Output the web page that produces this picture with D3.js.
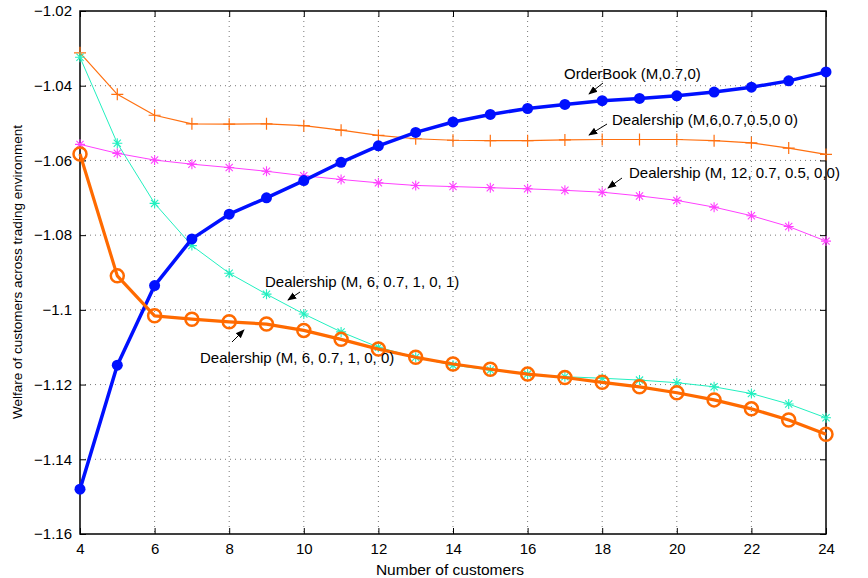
<!DOCTYPE html>
<html><head><meta charset="utf-8">
<script src="https://cdn.jsdelivr.net/npm/d3@7"></script>
<style>body{margin:0;background:#fff}svg{display:block}text{font-family:"Liberation Sans",Arial,sans-serif}</style>
</head><body><svg id="c" width="868" height="578"></svg>
<script>
const customers = [4,5,6,7,8,9,10,11,12,13,14,15,16,17,18,19,20,21,22,23,24];
const orderBook = [-1.148,-1.1148,-1.0935,-1.081,-1.0744,-1.07,-1.0654,-1.0605,-1.0561,-1.0525,-1.0497,-1.0477,-1.0461,-1.045,-1.044,-1.0434,-1.0427,-1.0417,-1.0404,-1.0387,-1.0363];
const dealerM6_05 = [-1.0312,-1.0423,-1.0479,-1.0502,-1.0503,-1.0502,-1.0507,-1.0519,-1.0533,-1.0542,-1.0546,-1.0547,-1.0547,-1.0545,-1.0544,-1.0544,-1.0544,-1.0547,-1.0553,-1.0567,-1.0584];
const dealerM12_05 = [-1.0557,-1.0581,-1.0599,-1.061,-1.0619,-1.0629,-1.0641,-1.0651,-1.066,-1.0667,-1.067,-1.0673,-1.0676,-1.068,-1.0685,-1.0695,-1.0707,-1.0725,-1.0748,-1.0777,-1.0816];
const dealerM6_1_1 = [-1.0324,-1.0554,-1.0715,-1.0828,-1.0902,-1.0958,-1.1011,-1.1059,-1.11,-1.1127,-1.1148,-1.1161,-1.1172,-1.1179,-1.1183,-1.1188,-1.1195,-1.1206,-1.1224,-1.1252,-1.1289];
const dealerM6_1_0 = [-1.0583,-1.0909,-1.1016,-1.1025,-1.1032,-1.1038,-1.1055,-1.1079,-1.1105,-1.1127,-1.1145,-1.1159,-1.1172,-1.1181,-1.1194,-1.1206,-1.1222,-1.1241,-1.1265,-1.1295,-1.1333];
const xTicks = [4,6,8,10,12,14,16,18,20,22,24];
const yTicks = [-1.16,-1.14,-1.12,-1.1,-1.08,-1.06,-1.04,-1.02];
const yTickLabels = ["\u22121.16","\u22121.14","\u22121.12","\u22121.1","\u22121.08","\u22121.06","\u22121.04","\u22121.02"];
const labels = ["OrderBook (M,0.7,0)","Dealership (M,6,0.7,0.5,0 0)","Dealership (M, 12, 0.7, 0.5, 0,0)","Dealership (M, 6, 0.7, 1, 0, 1)","Dealership (M, 6, 0.7, 1, 0, 0)"];
const xTitle = "Number of customers";
const yTitle = "Welfare of customers across trading environment";

const svg = d3.select("#c");
const L=80,R=826,T=11,B=534;
const x = d3.scaleLinear().domain([4,24]).range([L,R]);
const y = d3.scaleLinear().domain([-1.16,-1.02]).range([B,T]);

const g = svg.append("g");
g.selectAll(".gx").data(xTicks.slice(1,-1)).enter().append("line")
 .attr("x1",d=>x(d)).attr("x2",d=>x(d)).attr("y1",T).attr("y2",B)
 .attr("stroke","#555").attr("stroke-width",0.8).attr("stroke-dasharray","1,4");
g.selectAll(".gy").data(yTicks.slice(1,-1)).enter().append("line")
 .attr("y1",d=>y(d)).attr("y2",d=>y(d)).attr("x1",L).attr("x2",R)
 .attr("stroke","#555").attr("stroke-width",0.8).attr("stroke-dasharray","1,4");

const fs = "15px";
const ax = svg.append("g").attr("transform",`translate(0,${B})`)
 .call(d3.axisBottom(x).tickValues(xTicks).tickSizeInner(-6).tickSizeOuter(0).tickPadding(9).tickFormat(d3.format("d")));
const ay = svg.append("g").attr("transform",`translate(${L},0)`)
 .call(d3.axisLeft(y).tickValues(yTicks).tickSizeInner(-6).tickSizeOuter(0).tickPadding(8).tickFormat((d,i)=>yTickLabels[i]));
const axT = svg.append("g").attr("transform",`translate(0,${T})`)
 .call(d3.axisTop(x).tickValues(xTicks).tickSizeInner(-6).tickSizeOuter(0).tickFormat(""));
const ayR = svg.append("g").attr("transform",`translate(${R},0)`)
 .call(d3.axisRight(y).tickValues(yTicks).tickSizeInner(-6).tickSizeOuter(0).tickFormat(""));
[ax,ay,axT,ayR].forEach(a=>{a.select(".domain").remove();a.selectAll("line").attr("stroke","#000");
 a.selectAll("text").attr("font-size",fs).attr("fill","#000").attr("font-family","Liberation Sans, Arial, sans-serif");});
svg.append("rect").attr("x",L).attr("y",T).attr("width",R-L).attr("height",B-T)
 .attr("fill","none").attr("stroke","#000").attr("stroke-width",1.5);

const line = d3.line().x((d,i)=>x(customers[i])).y(d=>y(d));
function drawSeries(vals,color,w,marker){
  const s = svg.append("g");
  s.append("path").datum(vals).attr("d",line).attr("fill","none").attr("stroke",color).attr("stroke-width",w).attr("stroke-linejoin","round");
  const m = s.selectAll("g.m").data(vals).enter().append("g").attr("transform",(d,i)=>`translate(${x(customers[i])},${y(d)})`);
  if(marker==="dot") m.append("circle").attr("r",5.5).attr("fill",color);
  if(marker==="o") m.append("circle").attr("r",6.5).attr("fill","none").attr("stroke",color).attr("stroke-width",2.5);
  if(marker==="+"){ m.append("path").attr("d","M-6,0H6M0,-6V6").attr("stroke",color).attr("stroke-width",1.2); }
  if(marker==="*"){ m.append("path").attr("d","M-5,0H5M0,-5V5M-3.6,-3.6L3.6,3.6M-3.6,3.6L3.6,-3.6").attr("stroke",color).attr("stroke-width",1.1); }
}
drawSeries(dealerM12_05,"#ff40ff",1,"*");
drawSeries(dealerM6_05,"#ff7010",1.2,"+");
drawSeries(dealerM6_1_1,"#22f0c0",1,"*");
drawSeries(orderBook,"#0010ff",3.5,"dot");
drawSeries(dealerM6_1_0,"#ff6a00",3.2,"o");

svg.append("defs").append("marker").attr("id","ah").attr("viewBox","0 0 10 10").attr("refX",9).attr("refY",5)
 .attr("markerWidth",9).attr("markerHeight",9).attr("markerUnits","userSpaceOnUse").attr("orient","auto")
 .append("path").attr("d","M0,1L10,5L0,9Z").attr("fill","#000");
const ann = [
 {t:labels[0],tx:564,ty:79,a:[603,83,589,94]},
 {t:labels[1],tx:612,ty:125,a:[607,124,589,135]},
 {t:labels[2],tx:629,ty:178,a:[622,178,608,188]},
 {t:labels[3],tx:265,ty:287,a:[300,292,288,300]},
 {t:labels[4],tx:200,ty:363,a:[232,342,244,330]}
];
ann.forEach(o=>{
 svg.append("text").attr("x",o.tx).attr("y",o.ty).attr("font-size","15px").attr("fill","#000").text(o.t);
 svg.append("line").attr("x1",o.a[0]).attr("y1",o.a[1]).attr("x2",o.a[2]).attr("y2",o.a[3])
  .attr("stroke","#000").attr("stroke-width",1).attr("marker-end","url(#ah)");
});

svg.append("text").attr("x",450).attr("y",575).attr("text-anchor","middle").attr("font-size","15.5px").text(xTitle);
svg.append("text").attr("transform",`translate(22,${272}) rotate(-90)`).attr("text-anchor","middle").attr("font-size","13.5px").text(yTitle);
</script></body></html>
